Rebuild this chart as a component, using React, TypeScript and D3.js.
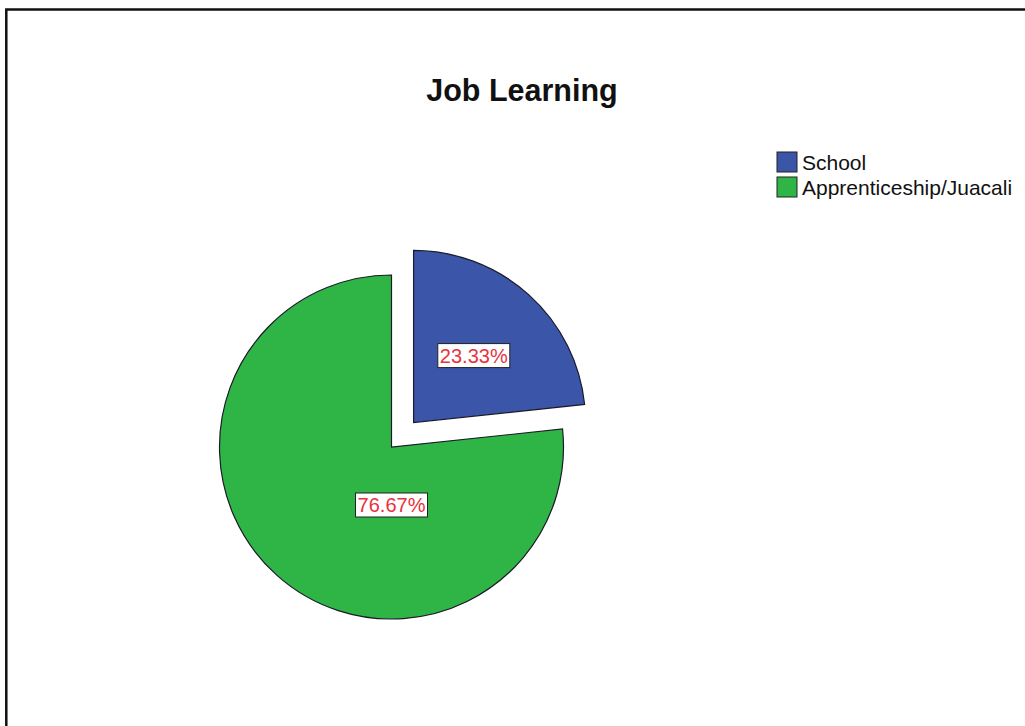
import React from "react";
import * as d3 from "d3";

const categories = ["School", "Apprenticeship/Juacali"];
const percents = [23.33, 76.67];
const colors = ["#3b56a8", "#2fb545"];
const exploded = [true, false];
const title = "Job Learning";

const W = 1025;
const H = 726;
const cx = 391.5;
const cy = 447;
const R = 172;
const explodeDist = 33;
const FONT = "Arial, 'Liberation Sans', Helvetica, sans-serif";

export default function App() {
  const pie = d3.pie<number>().sort(null).value((d) => d).startAngle(0).endAngle(2 * Math.PI);
  const arcs = pie(percents);
  const arcGen = d3.arc<d3.PieArcDatum<number>>().innerRadius(0).outerRadius(R);

  return (
    <svg
      width={W}
      height={H}
      style={{ position: "absolute", left: 0, top: 0, background: "#fff" }}
      fontFamily={FONT}
    >
      <rect x={6.3} y={9.5} width={W + 20} height={H + 20} fill="#fff" stroke="#111" strokeWidth={2.5} />
      <text x={522} y={101} textAnchor="middle" fontSize={30.5} fontWeight="bold" fill="#111">
        {title}
      </text>
      {arcs.map((a, i) => {
        const mid = (a.startAngle + a.endAngle) / 2;
        const ox = exploded[i] ? Math.sin(mid) * explodeDist : 0;
        const oy = exploded[i] ? -Math.cos(mid) * explodeDist : 0;
        const big = a.endAngle - a.startAngle > Math.PI;
        const la = big ? Math.PI : mid;
        const lr = big ? 58 : 90;
        const lx = cx + ox + Math.sin(la) * lr;
        const ly = cy + oy - Math.cos(la) * lr;
        const label = percents[i].toFixed(2) + "%";
        return (
          <g key={categories[i]}>
            <path
              d={arcGen(a) || ""}
              transform={`translate(${cx + ox},${cy + oy})`}
              fill={colors[i]}
              stroke="#1a1a2a"
              strokeWidth={1.2}
            />
            <rect x={lx - 36} y={ly - 12} width={72} height={24} fill="#fff" stroke="#222" strokeWidth={1} />
            <text x={lx} y={ly + 7} textAnchor="middle" fontSize={20} fill="#e8323c">
              {label}
            </text>
          </g>
        );
      })}
      {categories.map((c, i) => (
        <g key={c} transform={`translate(777,${152 + i * 25})`}>
          <rect x={0} y={0} width={20} height={20} fill={colors[i]} stroke="#222" strokeWidth={1} />
          <text x={25} y={18} fontSize={21} fill="#111">
            {c}
          </text>
        </g>
      ))}
    </svg>
  );
}
